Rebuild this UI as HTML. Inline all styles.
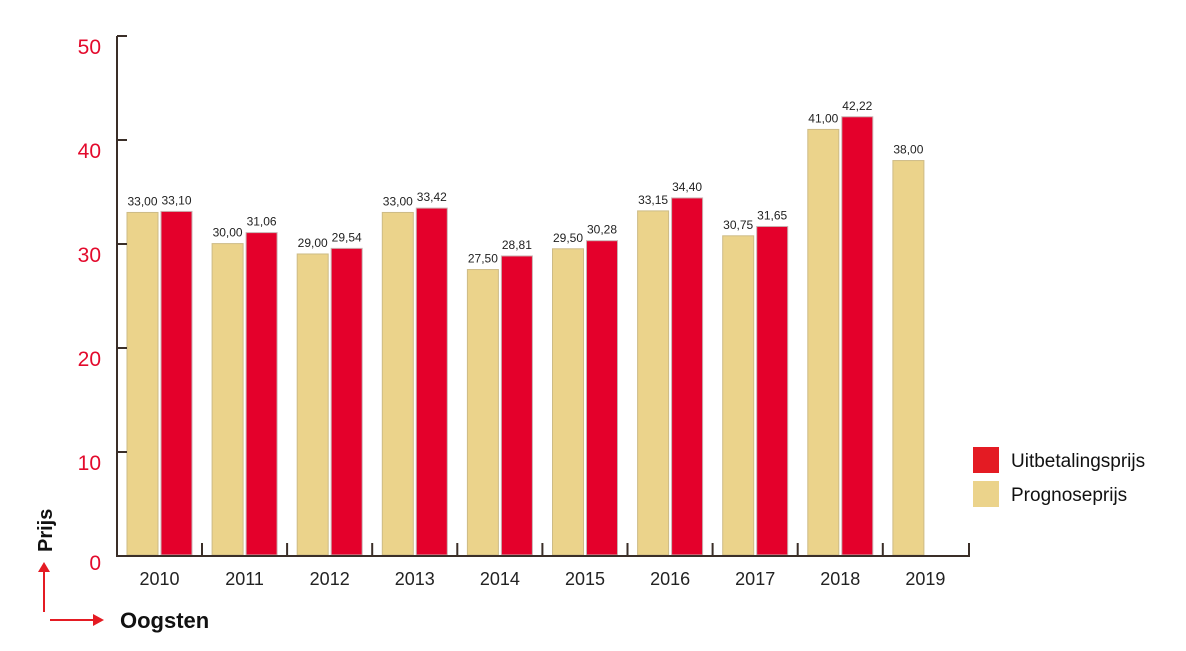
<!DOCTYPE html>
<html><head><meta charset="utf-8"><style>
html,body{margin:0;padding:0;background:#fff;}
svg{display:block;font-family:"Liberation Sans",sans-serif;}
</style></head><body>
<svg id="c" width="1186" height="651" viewBox="0 0 1186 651" xmlns="http://www.w3.org/2000/svg">
<g id="bars"></g>
<g stroke="#3a2e28" stroke-width="2" fill="none">
<path d="M117 36 V556 H969 V543"/>
<path d="M117 36 H127 M117 140 H127 M117 244 H127 M117 348 H127 M117 452 H127"/>
</g>
<g id="ticks" stroke="#3a2e28" stroke-width="2"></g>
<g fill="#e30a2c" font-size="21" text-anchor="end">
<text x="101" y="54">50</text><text x="101" y="158">40</text><text x="101" y="262">30</text>
<text x="101" y="366">20</text><text x="101" y="470">10</text><text x="101" y="570">0</text>
</g>
<g id="years" fill="#222" font-size="18" text-anchor="middle"></g>
<g id="vals" fill="#222" font-size="12" text-anchor="middle"></g>
<rect x="973" y="447" width="26" height="26" fill="#e41b23"/>
<rect x="973" y="481" width="26" height="26" fill="#ebd38b"/>
<text x="1011" y="467" font-size="19" fill="#111">Uitbetalingsprijs</text>
<text x="1011" y="501" font-size="19" fill="#111">Prognoseprijs</text>
<text transform="translate(52,552) rotate(-90)" font-size="20" font-weight="bold" fill="#111">Prijs</text>
<text x="120" y="628" font-size="22" font-weight="bold" fill="#111">Oogsten</text>
<g stroke="#e41b23" stroke-width="2" fill="#e41b23">
<line x1="44" y1="612" x2="44" y2="570"/><path d="M38 572 L44 562 L50 572 Z" stroke="none"/>
<line x1="50" y1="620" x2="95" y2="620"/><path d="M93 614 L104 620 L93 626 Z" stroke="none"/>
</g>
</svg>
<script>
var ns="http://www.w3.org/2000/svg";
function el(p,t,a,txt){var e=document.createElementNS(ns,t);for(var k in a)e.setAttribute(k,a[k]);if(txt)e.textContent=txt;document.getElementById(p).appendChild(e);}
var tan=[33,30,29,33,27.5,29.5,33.15,30.75,41,38];
var red=[33.1,31.06,29.54,33.42,28.81,30.28,34.4,31.65,42.22];
function y(v){return 555-v*10.38;}
function f(v){return v.toFixed(2).replace('.',',');}
for(var i=0;i<10;i++){
 var x=127+i*85.1;
 el('bars','rect',{x:x,y:y(tan[i]),width:31,height:555-y(tan[i]),fill:'#ebd38b',stroke:'#cdbb86','stroke-width':1});
 el('vals','text',{x:x+15.5,y:y(tan[i])-7},f(tan[i]));
 if(i<9){
  el('bars','rect',{x:x+34,y:y(red[i]),width:31,height:555-y(red[i]),fill:'#e4002b',stroke:'#c9b3b3','stroke-width':1});
  el('vals','text',{x:x+49.5,y:y(red[i])-7},f(red[i]));
 }
 el('years','text',{x:x+32.5,y:585},String(2010+i));
 if(i<9){var tx=202+i*85.1;el('ticks','line',{x1:tx,y1:556,x2:tx,y2:543});}
}
</script>
</body></html>
